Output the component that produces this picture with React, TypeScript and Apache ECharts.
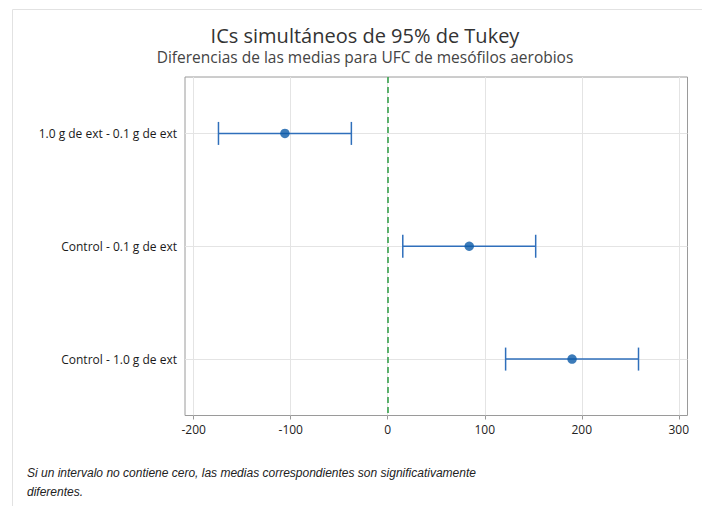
import { useEffect, useRef } from 'react';
import * as echarts from 'echarts';

const comparisons = ['1.0 g de ext - 0.1 g de ext', 'Control - 0.1 g de ext', 'Control - 1.0 g de ext'];
const means = [-106, 84, 190];
const lowers = [-174.5, 15.5, 121.5];
const uppers = [-37.5, 152.5, 258.5];
const xTickValues = [-200, -100, 0, 100, 200, 300];
const zeroRef = [0];
const titleText = 'ICs simultáneos de 95% de Tukey';
const subtitleText = 'Diferencias de las medias para UFC de mesófilos aerobios';
const noteLines = [
  'Si un intervalo no contiene cero, las medias correspondientes son significativamente',
  'diferentes.',
];

const BLUE = '#0b5aa8';
const LINE_BLUE = '#2f6fbb';
const GREEN = '#2a9c40';

export default function App() {
  const ref = useRef<HTMLDivElement>(null);
  useEffect(() => {
    if (!ref.current) return;
    const chart = echarts.init(ref.current, undefined, { renderer: 'svg' });
    const barData = comparisons.map((c, i) => [lowers[i], uppers[i], c]);
    const meanData = comparisons.map((c, i) => [means[i], c]);
    chart.setOption({
      animation: false,
      backgroundColor: '#fff',
      textStyle: { fontFamily: 'Open Sans' },
      grid: {
        left: 185,
        top: 77,
        right: 14.5,
        bottom: 90.5,
        show: true,
        borderColor: '#9a9a9a',
        borderWidth: 1,
        backgroundColor: 'transparent',
      },
      xAxis: {
        type: 'value',
        min: -209,
        max: 309,
        axisLine: { show: false },
        axisTick: { show: true, length: 4, lineStyle: { color: '#9a9a9a' }, customValues: xTickValues },
        axisLabel: {
          customValues: xTickValues,
          color: '#222',
          fontSize: 12,
          margin: 8,
          fontFamily: 'Open Sans',
        },
        splitLine: { show: true, lineStyle: { color: '#e4e4e4', width: 1 } },
      },
      yAxis: {
        type: 'category',
        data: comparisons,
        inverse: true,
        axisLine: { show: false },
        axisTick: { show: true, alignWithLabel: true, length: 5, lineStyle: { color: '#9a9a9a' } },
        axisLabel: { color: '#1a1a1a', fontSize: 12, margin: 8, fontFamily: 'Open Sans' },
        splitLine: { show: false },
      },
      graphic: [
        {
          type: 'rect',
          z: -10,
          silent: true,
          shape: { x: 12.5, y: 9.5, width: 720, height: 520 },
          style: { fill: 'none', stroke: '#e2e2e2', lineWidth: 1 },
        },
        {
          type: 'text',
          x: 365,
          y: 35,
          style: {
            text: titleText,
            fontSize: 20,
            fontFamily: 'Open Sans',
            fill: '#333',
            align: 'center',
            verticalAlign: 'middle',
          },
        },
        {
          type: 'text',
          x: 365,
          y: 57,
          style: {
            text: subtitleText,
            fontSize: 15.5,
            fontFamily: 'Open Sans',
            fill: '#444',
            align: 'center',
            verticalAlign: 'middle',
          },
        },
        ...noteLines.map((t, i) => ({
          type: 'text',
          x: 27,
          y: 473 + i * 19,
          style: {
            text: t,
            fontSize: 12,
            fontStyle: 'italic',
            fontFamily: 'Liberation Sans',
            fill: '#222',
            align: 'left',
            verticalAlign: 'middle',
          },
        })),
      ],
      series: [
        {
          type: 'scatter',
          name: 'guides',
          data: [],
          z: 1,
          markLine: {
            silent: true,
            symbol: 'none',
            z: 1,
            label: { show: false },
            lineStyle: { color: '#e4e4e4', width: 1, type: 'solid' },
            data: comparisons.map((c) => ({ yAxis: c })),
          },
        },
        {
          type: 'line',
          name: 'zero',
          data: [],
          z: 2,
          color: GREEN,
          markLine: {
            silent: true,
            symbol: 'none',
            z: 2,
            label: { show: false },
            emphasis: { disabled: true },
            lineStyle: { color: GREEN, width: 1.5, type: [6, 4], opacity: 1 },
            data: zeroRef.map((v) => ({ xAxis: v, lineStyle: { color: GREEN } })),
          },
        },
        {
          type: 'custom',
          name: 'IC',
          z: 3,
          data: barData,
          encode: { x: [0, 1], y: 2 },
          renderItem: (params: any, api: any) => {
            const cat = api.value(2);
            const lo = api.coord([api.value(0), cat]);
            const hi = api.coord([api.value(1), cat]);
            const capH = 11.5;
            const st = { stroke: LINE_BLUE, lineWidth: 1.5 };
            return {
              type: 'group',
              children: [
                { type: 'line', shape: { x1: lo[0], y1: lo[1], x2: hi[0], y2: hi[1] }, style: st },
                { type: 'line', shape: { x1: lo[0], y1: lo[1] - capH, x2: lo[0], y2: lo[1] + capH }, style: st },
                { type: 'line', shape: { x1: hi[0], y1: hi[1] - capH, x2: hi[0], y2: hi[1] + capH }, style: st },
              ],
            };
          },
        },
        {
          type: 'scatter',
          name: 'Media',
          z: 4,
          symbol: 'circle',
          symbolSize: 9.5,
          itemStyle: { color: BLUE },
          data: meanData,
        },
      ],
    });
    return () => chart.dispose();
  }, []);
  return <div ref={ref} style={{ position: 'fixed', left: 0, top: 0, width: 702, height: 506 }} />;
}
